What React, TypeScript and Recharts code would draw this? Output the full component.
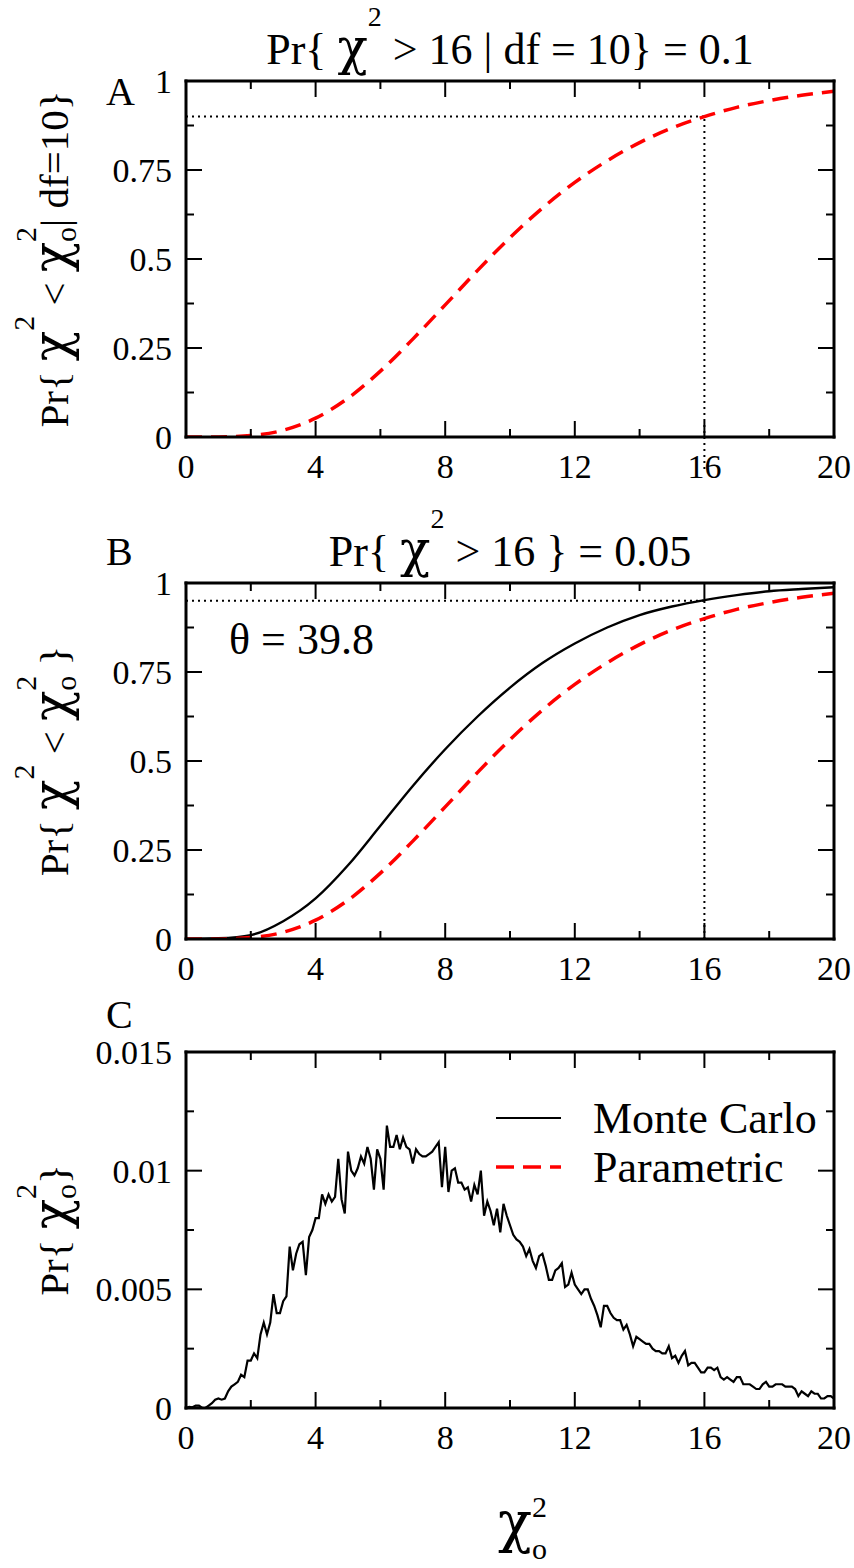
import React from "react";
import { LineChart, Line, XAxis, YAxis, ReferenceLine, Label, Legend } from "recharts";

// cumulative curves, read at integer chi^2 values
const cdfX = [0, 1, 2, 3, 4, 5, 6, 7, 8, 9, 10, 11, 12, 13, 14, 15, 16, 17, 18, 19, 20];
const parametricCdf = [
  0, 0.0002, 0.004, 0.019, 0.053, 0.109, 0.185, 0.275, 0.371, 0.468, 0.56,
  0.643, 0.715, 0.776, 0.827, 0.868, 0.9, 0.926, 0.945, 0.96, 0.971,
];
const monteCarloCdf = [
  0, 0.002, 0.011, 0.05, 0.114, 0.207, 0.318, 0.43, 0.533, 0.625, 0.706,
  0.775, 0.83, 0.875, 0.91, 0.934, 0.952, 0.966, 0.977, 0.983, 0.988,
];

// Monte Carlo histogram, bins of 0.1 from 0 to 20
const pdfX = Array.from({ length: 201 }, (_, i) => i / 10);
const monteCarloPdf = [
  0.0, 0.00005, 0.00003, 0.0001, 0.0001, 0.0, 0.0, 0.0001, 0.0002, 0.00035,
  0.0004, 0.00035, 0.0004, 0.0007, 0.0009, 0.001, 0.0011, 0.0014, 0.0013, 0.002,
  0.002, 0.0023, 0.0021, 0.0031, 0.0036, 0.0031, 0.0036, 0.0048, 0.004, 0.004,
  0.0045, 0.0047, 0.0068, 0.0058, 0.0065, 0.0069, 0.007, 0.0056, 0.0072, 0.0075,
  0.008, 0.008, 0.009, 0.0086, 0.009, 0.0087, 0.0089, 0.0105, 0.0088, 0.0082,
  0.0108, 0.01, 0.0098, 0.0101, 0.0106, 0.0103, 0.011, 0.0105, 0.0092, 0.0109,
  0.0105, 0.0092, 0.0119, 0.011, 0.011, 0.0115, 0.0109, 0.0114, 0.011, 0.0109,
  0.0103, 0.0109, 0.0107, 0.0106, 0.0106, 0.0107, 0.0108, 0.011, 0.0112, 0.0093,
  0.011, 0.0091, 0.01, 0.0101, 0.0095, 0.0095, 0.0092, 0.0093, 0.0087, 0.0094,
  0.009, 0.01, 0.0081, 0.0087, 0.0083, 0.0077, 0.0084, 0.0074, 0.0086, 0.0081,
  0.0077, 0.0073, 0.0071, 0.007, 0.0068, 0.0064, 0.0067, 0.0062, 0.0059, 0.0064,
  0.0065, 0.006, 0.0054, 0.0054, 0.0058, 0.0059, 0.0061, 0.0051, 0.0052, 0.0057,
  0.0052, 0.005, 0.0048, 0.005, 0.005, 0.0046, 0.0043, 0.0039, 0.0034, 0.0043,
  0.0043, 0.004, 0.0038, 0.0037, 0.0037, 0.0033, 0.0035, 0.0031, 0.0026, 0.003,
  0.0029, 0.0028, 0.0027, 0.0027, 0.0025, 0.0024, 0.0024, 0.0023, 0.0023, 0.0026,
  0.0021, 0.0022, 0.0019, 0.0022, 0.0024, 0.0018, 0.0019, 0.0019, 0.0017, 0.0015,
  0.0015, 0.0017, 0.0017, 0.0016, 0.0017, 0.0013, 0.0012, 0.0013, 0.0012, 0.0011,
  0.0013, 0.0013, 0.001, 0.001, 0.001, 0.0009, 0.0008, 0.0008, 0.001, 0.0011,
  0.0009, 0.0009, 0.001, 0.001, 0.001, 0.0009, 0.0009, 0.0009, 0.0008, 0.0005,
  0.0007, 0.0006, 0.0005, 0.0007, 0.0006, 0.0006, 0.0004, 0.0004, 0.0005, 0.0005, 0.0004,
];

const xTicks = [0, 2, 4, 6, 8, 10, 12, 14, 16, 18, 20];
const xMajorTicks = [0, 4, 8, 12, 16, 20];
const cdfTicks = [0, 0.125, 0.25, 0.375, 0.5, 0.625, 0.75, 0.875, 1];
const cdfMajorTicks = [0, 0.25, 0.5, 0.75, 1];
const pdfTicks = [0, 0.0025, 0.005, 0.0075, 0.01, 0.0125, 0.015];
const pdfMajorTicks = [0, 0.005, 0.01, 0.015];

const critical = 16;
const levelA = 0.9;
const levelB = 0.95;
const legendNames = ["Monte Carlo", "Parametric"];

const cdfData = cdfX.map((x, i) => ({ x, parametric: parametricCdf[i], monteCarlo: monteCarloCdf[i] }));
const pdfData = pdfX.map((x, i) => ({ x, monteCarlo: monteCarloPdf[i] }));

const FONT = "'Liberation Serif', 'Times New Roman', Times, serif";
const CHI_FONT = "'DejaVu Serif', 'Liberation Serif', serif";
const RED = "#ff0000";
const W = 854;
const LEFT = 185;
const RIGHT = 19;
const CHI = 50; // chi drawn a bit larger, like the Symbol font in the original

function AxisTick(props: any) {
  const { x, y, payload, side, majors, labelled } = props;
  const major = majors.includes(payload.value);
  const len = major ? 16 : 8;
  let line;
  if (side === "bottom") line = <line x1={x} y1={y} x2={x} y2={y - len} />;
  else if (side === "top") line = <line x1={x} y1={y} x2={x} y2={y + len} />;
  else if (side === "left") line = <line x1={x} y1={y} x2={x + len} y2={y} />;
  else line = <line x1={x} y1={y} x2={x - len} y2={y} />;
  let text = null;
  if (labelled && major) {
    text =
      side === "bottom" ? (
        <text x={x} y={y + 41} textAnchor="middle" fontSize={34} fontFamily={FONT} fill="#000">
          {payload.value}
        </text>
      ) : (
        <text x={x - 14} y={y + 12} textAnchor="end" fontSize={34} fontFamily={FONT} fill="#000">
          {payload.value}
        </text>
      );
  }
  return (
    <g>
      <g stroke="#000" strokeWidth={2}>{line}</g>
      {text}
    </g>
  );
}

const frame = { stroke: "#000", strokeWidth: 3, strokeLinecap: "square" as const };

function axisSet(yTicks: number[], yMajors: number[], yDomain: [number, number], title: any, yLabel: any, xLabel?: any) {
  return [
    <XAxis
      key="xb"
      xAxisId="b"
      dataKey="x"
      type="number"
      domain={[0, 20]}
      allowDataOverflow
      ticks={xTicks}
      interval={0}
      height={1}
      tickSize={0}
      tickMargin={0}
      tickLine={false}
      axisLine={frame}
      tick={<AxisTick side="bottom" majors={xMajorTicks} labelled />}
    >
      {xLabel}
    </XAxis>,
    <XAxis
      key="xt"
      xAxisId="t"
      dataKey="x"
      orientation="top"
      type="number"
      domain={[0, 20]}
      allowDataOverflow
      ticks={xTicks}
      interval={0}
      height={1}
      tickSize={0}
      tickMargin={0}
      tickLine={false}
      axisLine={frame}
      tick={<AxisTick side="top" majors={xMajorTicks} />}
    >
      {title}
    </XAxis>,
    <YAxis
      key="yl"
      yAxisId="l"
      type="number"
      domain={yDomain}
      allowDataOverflow
      ticks={yTicks}
      interval={0}
      width={1}
      tickSize={0}
      tickMargin={0}
      tickLine={false}
      axisLine={frame}
      tick={<AxisTick side="left" majors={yMajors} labelled />}
    >
      {yLabel}
    </YAxis>,
    <YAxis
      key="yr"
      yAxisId="r"
      orientation="right"
      type="number"
      domain={yDomain}
      allowDataOverflow
      ticks={yTicks}
      interval={0}
      width={1}
      tickSize={0}
      tickMargin={0}
      tickLine={false}
      axisLine={frame}
      tick={<AxisTick side="right" majors={yMajors} />}
    />,
  ];
}

const textProps = { fontFamily: FONT, fill: "#000" };

function Chi({ size = CHI }: { size?: number }) {
  return (
    <tspan fontSize={size} fontFamily={CHI_FONT}>
      χ
    </tspan>
  );
}

function titleLabel(lead: string, rest: string, letter: string, letterY: number) {
  return (
    <Label
      content={(p: any) => {
        const vb = p.viewBox || {};
        const cx = vb.x + vb.width / 2;
        const top = vb.y + vb.height;
        return (
          <g>
            {lead ? (
              <text x={cx} y={top - 17} textAnchor="middle" fontSize={44} {...textProps}>
                <tspan>{lead}</tspan>
                <Chi />
                <tspan dy={-38} fontSize={28}>2</tspan>
                <tspan dy={38}>{rest}</tspan>
              </text>
            ) : null}
            <text x={106} y={top + letterY} fontSize={40} {...textProps}>
              {letter}
            </text>
          </g>
        );
      }}
    />
  );
}

function yLabel(kind: "A" | "B" | "C") {
  return (
    <Label
      content={(p: any) => {
        const vb = p.viewBox || {};
        const cy = vb.y + vb.height / 2;
        let body;
        if (kind === "C") {
          body = (
            <>
              <tspan>{"Pr{ "}</tspan>
              <Chi />
              <tspan dy={8} fontSize={30}>o</tspan>
              <tspan dx={-15} dy={-40} fontSize={30}>2</tspan>
              <tspan dy={32}>{"}"}</tspan>
            </>
          );
        } else {
          body = (
            <>
              <tspan>{"Pr{ "}</tspan>
              <Chi />
              <tspan dy={-34} fontSize={30}>2</tspan>
              <tspan dy={34}>{" < "}</tspan>
              <Chi />
              <tspan dy={8} fontSize={30}>o</tspan>
              <tspan dx={-15} dy={-40} fontSize={30}>2</tspan>
              <tspan dy={32}>{kind === "A" ? "| df=10}" : " }"}</tspan>
            </>
          );
        }
        return (
          <text transform={`translate(68, ${cy}) rotate(-90)`} textAnchor="middle" fontSize={41} {...textProps}>
            {body}
          </text>
        );
      }}
    />
  );
}

const xLabelC = (
  <Label
    content={(p: any) => {
      const vb = p.viewBox || {};
      return (
        <text x={498} y={vb.y + 133} fontSize={44} {...textProps}>
          <Chi size={56} />
          <tspan dy={18} fontSize={30}>o</tspan>
          <tspan dx={-15} dy={-42} fontSize={30}>2</tspan>
        </text>
      );
    }}
  />
);

function LegendBox() {
  return (
    <svg width={360} height={110} style={{ display: "block", overflow: "visible" }}>
      <line x1={6} y1={28} x2={71} y2={28} stroke="#000" strokeWidth={2.2} />
      <text x={103} y={43} fontSize={44} {...textProps}>
        {legendNames[0]}
      </text>
      <line x1={6} y1={77} x2={71} y2={77} stroke={RED} strokeWidth={3.5} strokeDasharray="18 9" />
      <text x={103} y={92} fontSize={44} {...textProps}>
        {legendNames[1]}
      </text>
    </svg>
  );
}

const dotted = { stroke: "#000", strokeWidth: 2, strokeDasharray: "2 4" };

export default function App() {
  return (
    <div style={{ position: "absolute", left: 0, top: 0, width: W, height: 1568, background: "#fff" }}>
      <div style={{ position: "absolute", left: 0, top: 0 }}>
        <LineChart width={W} height={500} data={cdfData} margin={{ top: 80, right: RIGHT, bottom: 62, left: LEFT }}>
          {axisSet(cdfTicks, cdfMajorTicks, [0, 1], titleLabel("Pr{ ", " > 16 | df = 10} = 0.1", "A", 24), yLabel("A"))}
          <ReferenceLine xAxisId="b" yAxisId="l" segment={[{ x: 0, y: levelA }, { x: critical, y: levelA }]} {...dotted} />
          <ReferenceLine
            xAxisId="b"
            yAxisId="l"
            ifOverflow="visible"
            segment={[{ x: critical, y: -0.09 }, { x: critical, y: levelA }]}
            {...dotted}
          />
          <Line
            xAxisId="b"
            yAxisId="l"
            type="monotone"
            dataKey="parametric"
            stroke={RED}
            strokeWidth={3.5}
            strokeDasharray="16 9"
            dot={false}
            isAnimationActive={false}
          />
        </LineChart>
      </div>
      <div style={{ position: "absolute", left: 0, top: 500 }}>
        <LineChart width={W} height={490} data={cdfData} margin={{ top: 82, right: RIGHT, bottom: 50, left: LEFT }}>
          {axisSet(cdfTicks, cdfMajorTicks, [0, 1], titleLabel("Pr{ ", " > 16 } = 0.05", "B", -18), yLabel("B"))}
          <ReferenceLine xAxisId="b" yAxisId="l" segment={[{ x: 0, y: levelB }, { x: critical, y: levelB }]} {...dotted} />
          <ReferenceLine xAxisId="b" yAxisId="l" segment={[{ x: critical, y: 0 }, { x: critical, y: levelB }]} {...dotted} />
          <Line
            xAxisId="b"
            yAxisId="l"
            type="monotone"
            dataKey="monteCarlo"
            stroke="#000"
            strokeWidth={2.4}
            dot={false}
            isAnimationActive={false}
          />
          <Line
            xAxisId="b"
            yAxisId="l"
            type="monotone"
            dataKey="parametric"
            stroke={RED}
            strokeWidth={3.5}
            strokeDasharray="16 9"
            dot={false}
            isAnimationActive={false}
          />
        </LineChart>
        <div style={{ position: "absolute", left: 229, top: 118, font: `44px ${FONT}`, lineHeight: "44px" }}>θ = 39.8</div>
      </div>
      <div style={{ position: "absolute", left: 0, top: 990 }}>
        <LineChart width={W} height={578} data={pdfData} margin={{ top: 61, right: RIGHT, bottom: 159, left: LEFT }}>
          {axisSet(pdfTicks, pdfMajorTicks, [0, 0.015], titleLabel("", "", "C", -24), yLabel("C"), xLabelC)}
          <Line
            xAxisId="b"
            yAxisId="l"
            type="linear"
            dataKey="monteCarlo"
            stroke="#000"
            strokeWidth={2.2}
            dot={false}
            isAnimationActive={false}
          />
          <Legend
            layout="vertical"
            align="center"
            verticalAlign="middle"
            content={() => <LegendBox />}
            wrapperStyle={{ left: 490, top: 100, width: 360, height: 110 }}
          />
        </LineChart>
      </div>
    </div>
  );
}
